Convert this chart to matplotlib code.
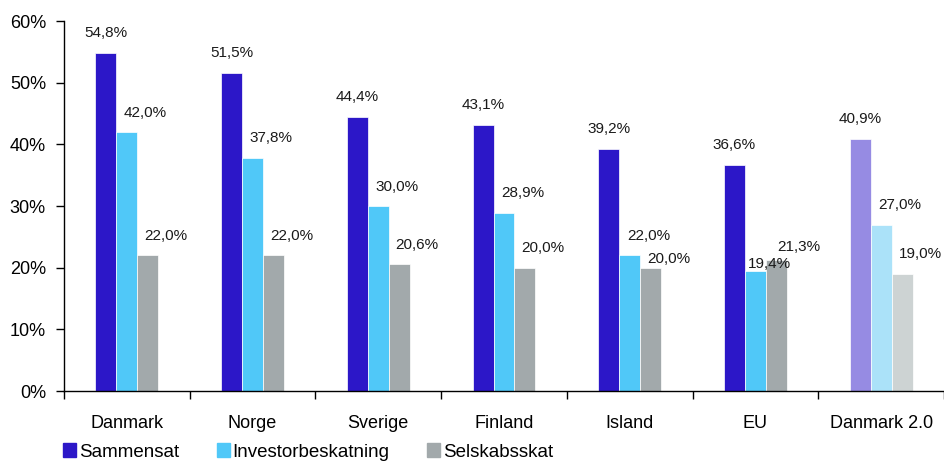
import numpy as np
import matplotlib
matplotlib.use('Agg')
import matplotlib.pyplot as plt
from matplotlib.patches import Patch

plt.rcParams['font.family'] = ['Liberation Sans', 'DejaVu Sans']

# data
lande = ['Danmark', 'Norge', 'Sverige', 'Finland', 'Island', 'EU', 'Danmark 2.0']
serier = ['Sammensat', 'Investorbeskatning', 'Selskabsskat']
sammensat = [54.8, 51.5, 44.4, 43.1, 39.2, 36.6, 40.9]
investor = [42.0, 37.8, 30.0, 28.9, 22.0, 19.4, 27.0]
selskab = [22.0, 22.0, 20.6, 20.0, 20.0, 21.3, 19.0]
vaerdier = [sammensat, investor, selskab]

farver = ['#2C17C8', '#50C8F8', '#A2A9AB']
lyse_farver = ['#968BE3', '#ABE2F9', '#CDD3D3']

# label offsets in points (dx, dy) per serie; a few labels were moved by hand in the original
label_off = [(0, 14.5), (13.5, 14), (13, 14)]
label_special = {('EU', 1): (10, 5.5), ('EU', 2): (16, 9), ('Island', 2): (13, 6.5)}

fig = plt.figure(figsize=(9.44, 4.61), dpi=100)
ax = fig.add_axes([64/944, 70/461, 880/944, 370/461])

x = np.arange(len(lande))
w = 1/6
for s in range(3):
    cols = [farver[s]] * (len(lande) - 1) + [lyse_farver[s]]
    pos = x + (s - 1) * w
    ax.bar(pos, np.array(vaerdier[s]) / 100, width=w, color=cols,
           edgecolor='white', linewidth=0.5)
    for i, v in enumerate(vaerdier[s]):
        dx, dy = label_special.get((lande[i], s), label_off[s])
        ax.annotate(('%.1f%%' % v).replace('.', ','), (pos[i], v / 100),
                    xytext=(dx, dy), textcoords='offset points',
                    ha='center', va='center', fontsize=11, color='#1a1a1a')

ax.set_xlim(-0.5, len(lande) - 0.5)
ax.set_ylim(0, 0.6)
ax.set_yticks(np.arange(0, 0.61, 0.1))
ax.set_yticklabels(['%d%%' % round(t * 100) for t in np.arange(0, 0.61, 0.1)])
ax.set_xticks(x)
ax.set_xticklabels(lande)
ax.set_xticks(np.arange(-0.5, len(lande), 1), minor=True)
ax.tick_params(axis='x', which='major', length=0, pad=17, labelsize=13)
ax.tick_params(axis='x', which='minor', length=6, width=1, direction='out')
ax.tick_params(axis='y', length=6, width=1, pad=7, labelsize=13)
for sp in ['top', 'right']:
    ax.spines[sp].set_visible(False)
ax.spines['left'].set_linewidth(1)
ax.spines['bottom'].set_linewidth(1)

handles = [Patch(color=farver[s], label=serier[s]) for s in range(3)]
fig.legend(handles=handles, loc='center left', bbox_to_anchor=(63/944, 9/461),
           ncol=3, frameon=False, fontsize=13.5, handlelength=0.7, handleheight=0.7,
           handletextpad=0.15, columnspacing=2.0, borderpad=0, borderaxespad=0)

fig.savefig('out.png', dpi=100)
